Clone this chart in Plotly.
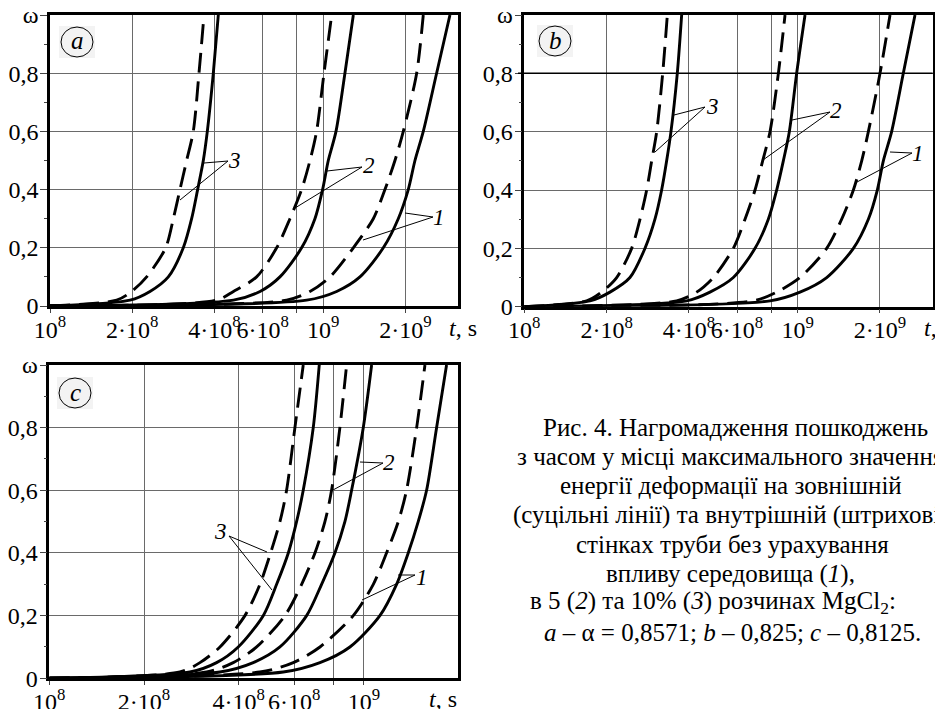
import plotly.graph_objects as go

# the page body adds an 8 px margin; the figure is sized / laid out to compensate
W, H = 943, 709
OFF = 8
FW, FH = W - OFF, H - OFF

# ---------------- data ----------------
# damage levels (shared by every curve)
omega = [0, 0.02, 0.05, 0.1, 0.2, 0.3, 0.4, 0.5, 0.6, 0.8, 1.0]

# time t, in units of 1e8 s, at which each curve reaches the omega levels
# solid = outer wall, dashed = inner wall; 1 - no medium, 2 - 5% MgCl2, 3 - 10% MgCl2
a_outer_1 = [1.0, 8.69, 11.19, 13.62, 16.58, 18.81, 20.46, 21.65, 23.22, 25.98, 29.07]
a_inner_1 = [1.0, 7.34, 8.94, 10.58, 12.88, 15.24, 16.81, 18.29, 19.62, 21.96, 23.22]
a_outer_2 = [1.0, 4.69, 5.87, 6.94, 8.33, 9.32, 9.94, 10.43, 11.13, 12.00, 12.88]
a_inner_2 = [1.0, 4.07, 4.69, 5.70, 6.75, 7.55, 8.33, 8.94, 9.45, 10.06, 10.73]
a_outer_3 = [1.0, 1.962, 2.322, 2.710, 3.074, 3.298, 3.469, 3.639, 3.764, 3.959, 4.129]
a_inner_3 = [1.0, 1.754, 1.990, 2.258, 2.650, 2.827, 2.989, 3.162, 3.344, 3.509, 3.660]

b_outer_1 = [1.0, 7.922, 10.20, 12.77, 15.99, 18.14, 19.56, 20.58, 22.07, 24.35, 26.87]
b_inner_1 = [1.0, 6.886, 8.380, 10.20, 12.77, 14.49, 15.99, 17.15, 18.14, 20.01, 21.77]
b_outer_2 = [1.0, 3.926, 4.778, 5.816, 6.983, 7.811, 8.380, 8.863, 9.322, 9.915, 10.64]
b_inner_2 = [1.0, 3.608, 4.270, 4.915, 5.816, 6.418, 6.983, 7.447, 7.922, 8.500, 8.990]
b_outer_3 = [1.0, 1.739, 2.058, 2.435, 2.763, 3.006, 3.180, 3.317, 3.440, 3.628, 3.764]
b_inner_3 = [1.0, 1.690, 1.918, 2.177, 2.470, 2.650, 2.803, 2.924, 3.050, 3.208, 3.336]

c_outer_1 = [1.0, 5.541, 7.249, 9.026, 11.24, 12.70, 13.83, 14.88, 15.82, 17.02, 18.31]
c_inner_1 = [1.0, 4.672, 5.963, 7.249, 9.250, 10.71, 11.80, 12.86, 13.66, 14.71, 15.63]
c_outer_2 = [1.0, 3.487, 4.449, 5.409, 6.575, 7.336, 8.087, 8.701, 9.138, 9.952, 10.58]
c_inner_2 = [1.0, 3.162, 3.843, 4.560, 5.609, 6.339, 6.988, 7.517, 7.892, 8.387, 8.810]
c_outer_3 = [1.0, 2.799, 3.402, 3.986, 4.786, 5.279, 5.750, 6.109, 6.414, 6.902, 7.212]
c_inner_3 = [1.0, 2.602, 3.012, 3.487, 4.186, 4.672, 5.051, 5.409, 5.678, 6.035, 6.414]

t_unit = 1e8

x_tickvals_ab = [1e8, 2e8, 4e8, 6e8, 8e8, 1e9, 2e9]
x_ticktext_ab = ["10<sup>8</sup>", "2·10<sup>8</sup>", "4·10<sup>8</sup>", "6·10<sup>8</sup>", " ",
                 "10<sup>9</sup>", "2·10<sup>9</sup>"]
x_tickvals_c = [1e8, 2e8, 4e8, 6e8, 8e8, 1e9]
x_ticktext_c = ["10<sup>8</sup>", "2·10<sup>8</sup>", "4·10<sup>8</sup>", "6·10<sup>8</sup>", " ",
                "10<sup>9</sup>"]
y_tickvals = [0, 0.2, 0.4, 0.6, 0.8, 1.0]
y_ticktext = ["0", "0,2", "0,4", "0,6", "0,8", "ω"]

panel_letters = ["a", "b", "c"]

caption_lines = [
    "Рис. 4. Нагромадження пошкоджень",
    "з часом у місці максимального значення",
    "енергії деформації на зовнішній",
    "(суцільні лінії) та внутрішній (штрихові)",
    "стінках труби без урахування",
    "впливу середовища (<i>1</i>),",
    "в 5 (<i>2</i>) та 10% (<i>3</i>) розчинах MgCl<sub>2</sub>:",
    "<i>a</i> – α = 0,8571; <i>b</i> – 0,825; <i>c</i> – 0,8125.",
]

# ---------------- helpers ----------------
def px(x):
    return (x - OFF) / FW


def py(y):
    return 1 - (y - OFF) / FH


FONT = "Liberation Serif"
DASH = "20px,9px"

fig = go.Figure()

panels = {
    "a": dict(xa="x", ya="y",
              curves=[(a_outer_1, "solid"), (a_inner_1, DASH), (a_outer_2, "solid"),
                      (a_inner_2, DASH), (a_outer_3, "solid"), (a_inner_3, DASH)]),
    "b": dict(xa="x2", ya="y2",
              curves=[(b_outer_1, "solid"), (b_inner_1, DASH), (b_outer_2, "solid"),
                      (b_inner_2, DASH), (b_outer_3, "solid"), (b_inner_3, DASH)]),
    "c": dict(xa="x3", ya="y3",
              curves=[(c_outer_1, "solid"), (c_inner_1, DASH), (c_outer_2, "solid"),
                      (c_inner_2, DASH), (c_outer_3, "solid"), (c_inner_3, DASH)]),
}

for key, p in panels.items():
    for tvals, dash in p["curves"]:
        fig.add_trace(go.Scatter(
            x=[v * t_unit for v in tvals], y=omega,
            xaxis=p["xa"], yaxis=p["ya"], mode="lines",
            line=dict(color="black", width=2.9, dash=dash, shape="spline", smoothing=0.8),
            showlegend=False, hoverinfo="skip"))

axis_common = dict(showline=True, mirror=True, linecolor="black", linewidth=2.5,
                   showgrid=True, gridcolor="#6a6a6a", gridwidth=1, zeroline=False,
                   automargin=False, tickangle=0,
                   ticks="outside", tickcolor="#444", tickwidth=1,
                   tickfont=dict(family=FONT, size=24, color="black"))

# plot-area pixel boxes on the screen (left, right, top, bottom)
box_a = (50.0, 458.3, 15.0, 306.0)
box_b = (524.3, 932.7, 15.0, 306.7)
box_c = (49.3, 458.3, 365.0, 678.3)


def xdom(b):
    return [px(b[0]), px(b[1])]


def ydom(b):
    return [py(b[3]), py(b[2])]


def xaxis_cfg(b, anchor, rng, tv, tt):
    return dict(axis_common, type="log", domain=xdom(b), anchor=anchor, range=rng,
                tickmode="array", tickvals=tv, ticktext=tt, ticklen=4,
                ticklabelstandoff=-4)


def yaxis_cfg(b, anchor):
    return dict(axis_common, domain=ydom(b), anchor=anchor, range=[0, 1.0],
                tickmode="array", tickvals=y_tickvals, ticktext=y_ticktext, ticklen=7,
                ticklabelstandoff=-3,
                minor=dict(tick0=0, dtick=0.1, ticks="outside", ticklen=3,
                           tickcolor="#444", showgrid=False))


fig.update_layout(
    template="none",
    font=dict(family=FONT, color="black"),
    width=FW, height=FH, margin=dict(l=0, r=0, t=0, b=0, pad=0), autosize=False,
    paper_bgcolor="white", plot_bgcolor="white", showlegend=False,
    xaxis=xaxis_cfg(box_a, "y", [8, 9.494], x_tickvals_ab, x_ticktext_ab),
    yaxis=yaxis_cfg(box_a, "x"),
    xaxis2=xaxis_cfg(box_b, "y2", [8, 9.494], x_tickvals_ab, x_ticktext_ab),
    yaxis2=yaxis_cfg(box_b, "x2"),
    xaxis3=xaxis_cfg(box_c, "y3", [8, 9.3], x_tickvals_c, x_ticktext_c),
    yaxis3=yaxis_cfg(box_c, "x3"),
)

shapes = []
annotations = []


def note(x, y, text, size, xanchor="center", yanchor="middle"):
    annotations.append(dict(xref="paper", yref="paper", x=px(x), y=py(y), text=text,
                            showarrow=False, xanchor=xanchor, yanchor=yanchor,
                            font=dict(family=FONT, size=size, color="black")))


# black 0.8 line in panel b
y08 = 306.7 - (306.7 - 15) * 0.8
shapes.append(dict(type="line", xref="paper", yref="paper", x0=px(518), x1=px(932.7),
                   y0=py(y08), y1=py(y08), line=dict(color="black", width=1.5)))

# circled panel letters
for letter, (cx, cy) in zip(panel_letters, [(77, 42), (555, 41), (75, 393)]):
    shapes.append(dict(type="rect", xref="paper", yref="paper", layer="below",
                       x0=px(cx - 18), x1=px(cx + 18), y0=py(cy + 16), y1=py(cy - 16),
                       fillcolor="#f3f3f3", line=dict(width=0)))
    shapes.append(dict(type="circle", xref="paper", yref="paper",
                       x0=px(cx - 16), x1=px(cx + 16), y0=py(cy + 15), y1=py(cy - 15),
                       line=dict(color="black", width=1)))
    note(cx, cy - 1, f"<i>{letter}</i>", 25)

# curve number labels with two leader lines each: (label pos, start, end1, end2)
labels = [
    ("3", (234, 160), (228, 161), (204, 163), (180, 200)),
    ("2", (369, 166), (362, 167), (327, 171), (295, 208)),
    ("1", (439, 217), (433, 217), (405, 213), (363, 240)),
    ("3", (712, 106), (705, 107), (674, 115), (655, 152)),
    ("2", (836, 111), (830, 112), (792, 120), (763, 160)),
    ("1", (918, 154), (912, 153), (890, 152), (857, 182)),
    ("2", (389, 462), (383, 463), (360, 462), (333, 490)),
    ("3", (220, 531), (229, 536), (267, 552), (272, 590)),
    ("1", (422, 577), (415, 575), (398, 575), (362, 600)),
]
for txt, lp, st, e1, e2 in labels:
    note(lp[0], lp[1], f"<i>{txt}</i>", 23)
    for e in (e1, e2):
        shapes.append(dict(type="line", xref="paper", yref="paper",
                           x0=px(st[0]), y0=py(st[1]), x1=px(e[0]), y1=py(e[1]),
                           line=dict(color="black", width=1)))

# axis names "t, s"
for x, y, anchor in [(447, 328, "left"), (922, 328, "left"), (459, 699, "right")]:
    note(x, y, "<i>t</i>, s", 24, xanchor=anchor)

# caption (centre x of each line, measured)
caption_cx = [735, 731, 731, 731, 732, 730, 713, 732]
for i, line in enumerate(caption_lines):
    note(caption_cx[i], 427 + 29.3 * i, line, 25)

fig.update_layout(shapes=shapes, annotations=annotations)

fig.write_html("out.html")
